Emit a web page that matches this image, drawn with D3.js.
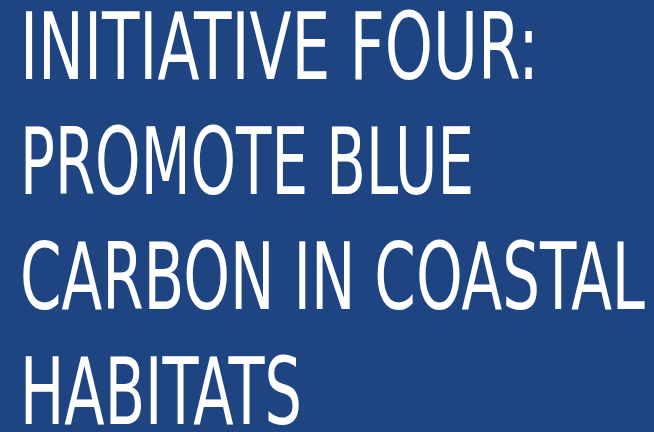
<!DOCTYPE html>
<html>
<head>
<meta charset="utf-8">
<script src="https://d3js.org/d3.v7.min.js"></script>
<style>
  html, body { margin: 0; padding: 0; background: #1e4582; }
</style>
</head>
<body>
<script>
    var width = 654;
    var height = 432;

    // title lines and where each one ends
    var lines = ["INITIATIVE FOUR:", "PROMOTE BLUE", "CARBON IN COASTAL", "HABITATS"];
    var lineEnds = [539, 474, 645, 302];

    var svg = d3.select("body")
    .append("svg")
    .attr("width", width)
    .attr("height", height);

    svg.append("rect")
    .attr("width", width)
    .attr("height", height)
    .attr("fill", "#1e4582");

    var scaleY = d3.scalePoint()
    .domain(d3.range(lines.length))
    .range([79, 424]);

    svg.append("g")
    .selectAll("text")
    .data(lines)
    .enter()
    .append("text")
    .attr("x", 20)
    .attr("y", function(d, i){return scaleY(i);})
    .attr("textLength", function(d, i){return lineEnds[i] - 20;})
    .attr("lengthAdjust", "spacingAndGlyphs")
    .text(function(d){return d;})
    .style("font-family", "'Liberation Sans Narrow', 'DejaVu Sans Condensed', sans-serif")
    .style("font-size", "93px")
    .style("fill", "#ffffff");
</script>
</body>
</html>
